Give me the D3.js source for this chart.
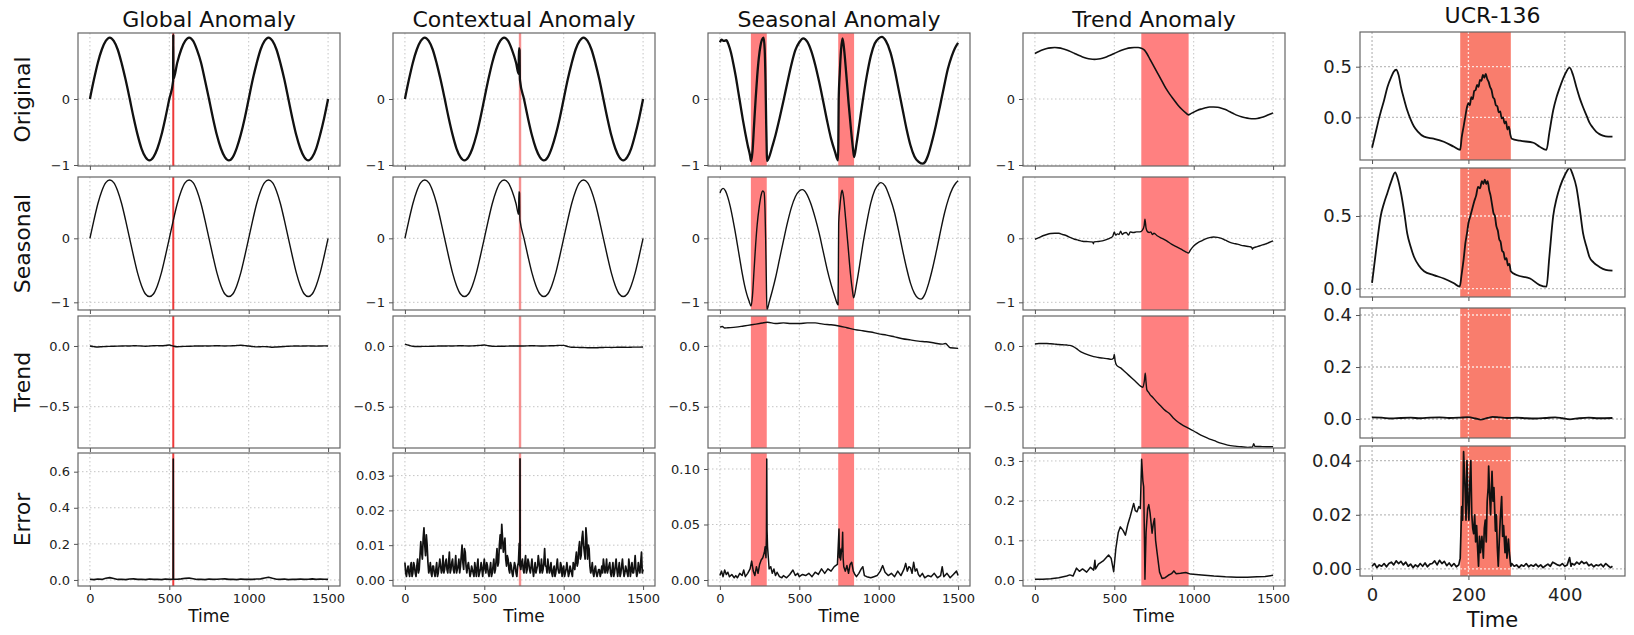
<!DOCTYPE html>
<html><head><meta charset="utf-8">
<script src="https://cdn.jsdelivr.net/npm/d3@7"></script>
<style>body{margin:0;background:#fff}svg{display:block}</style>
</head><body>
<svg id="chart" width="1634" height="635"></svg>
<script>
// ---------------- DATA ----------------
const columnTitles = ["Global Anomaly", "Contextual Anomaly", "Seasonal Anomaly", "Trend Anomaly", "UCR-136"];
const rowLabels = ["Original", "Seasonal", "Trend", "Error"];
const timeTicks = [0, 500, 1000, 1500];
const ucrTimeTicks = [0, 200, 400];
const rowYTicks = [[-1, 0], [-1, 0], [-0.5, 0.0]];
const errorYTicks = [[0, 0.2, 0.4, 0.6], [0, 0.01, 0.02, 0.03], [0, 0.05, 0.10], [0, 0.1, 0.2, 0.3]];
const ucrYTicks = [[0, 0.5], [0, 0.5], [0, 0.2, 0.4], [0, 0.02, 0.04]];

const t25 = [0,25,50,75,100,125,150,175,200,225,250,275,300,325,350,375,400,425,450,475,500,525,550,575,600,625,650,675,700,725,750,775,800,825,850,875,900,925,950,975,1000,1025,1050,1075,1100,1125,1150,1175,1200,1225,1250,1275,1300,1325,1350,1375,1400,1425,1450,1475,1500];

// Global anomaly (values on t25)
const globalOriginal = [0,0.29,0.55,0.75,0.88,0.93,0.88,0.75,0.54,0.29,0.01,-0.28,-0.54,-0.75,-0.88,-0.93,-0.88,-0.75,-0.55,-0.29,
 0.0,0.98,0.55,0.75,0.88,0.93,0.88,0.74,0.55,0.28,0,-0.29,-0.55,-0.75,-0.88,-0.93,-0.88,-0.74,-0.54,-0.29,
 0,0.29,0.54,0.75,0.88,0.93,0.88,0.75,0.54,0.29,0,-0.29,-0.55,-0.75,-0.88,-0.93,-0.88,-0.75,-0.54,-0.29,0];
const globalOriginalExtra = [[524,0.27],[526,0.30]];
const globalSeasonal = [0,0.28,0.54,0.74,0.87,0.91,0.87,0.74,0.54,0.28,0,-0.28,-0.54,-0.74,-0.87,-0.91,-0.87,-0.74,-0.54,-0.28,
 0,0.28,0.54,0.74,0.87,0.91,0.87,0.74,0.54,0.28,0,-0.28,-0.54,-0.74,-0.87,-0.91,-0.87,-0.74,-0.54,-0.28,
 0,0.28,0.54,0.74,0.87,0.91,0.87,0.74,0.54,0.28,0,-0.28,-0.54,-0.74,-0.87,-0.91,-0.87,-0.74,-0.54,-0.28,0];
const globalTrend = [0.0,-0.005,-0.008,-0.006,-0.004,-0.003,-0.002,-0.001,0.0,0.001,0.0,0.002,0.001,0.0,-0.002,0.0,0.002,0.003,0.002,0.004,
 0.008,-0.001,-0.006,-0.004,-0.003,-0.002,-0.001,0.0,0.0,0.001,0.0,0.001,0.002,0.001,0.0,0.001,0.002,0.004,0.006,0.003,
 0.0,-0.004,-0.007,-0.006,-0.005,-0.007,-0.01,-0.008,-0.006,-0.004,-0.002,-0.001,0.0,-0.001,0.0,0.001,0.0,-0.001,0.0,0.001,0.0];
const globalError = [0.004,0.002,0.005,0.003,0.009,0.013,0.008,0.003,0.004,0.002,0.005,0.006,0.003,0.004,0.002,0.005,0.003,0.004,0.002,0.005,
 0.003,0.67,0.004,0.006,0.009,0.011,0.007,0.003,0.004,0.002,0.005,0.003,0.004,0.005,0.006,0.003,0.004,0.002,0.005,0.003,
 0.004,0.003,0.005,0.006,0.011,0.015,0.009,0.004,0.003,0.005,0.002,0.004,0.003,0.005,0.003,0.004,0.006,0.003,0.005,0.004,0.003];
const globalErrorExtra = [[524,0.004],[526,0.004]];
const globalMarker = 525;

// Contextual anomaly
const contextualOriginal = [0,0.29,0.55,0.75,0.88,0.93,0.88,0.75,0.54,0.29,0.01,-0.28,-0.54,-0.75,-0.88,-0.93,-0.88,-0.75,-0.55,-0.29,
 0,0.29,0.55,0.75,0.88,0.93,0.88,0.74,0.55,0.28,0,-0.29,-0.55,-0.75,-0.88,-0.93,-0.88,-0.74,-0.54,-0.29,
 0,0.29,0.54,0.75,0.88,0.93,0.88,0.75,0.54,0.29,0,-0.29,-0.55,-0.75,-0.88,-0.93,-0.88,-0.75,-0.54,-0.29,0];
const contextualOriginalJump = [[716,0.38],[718,0.77],[722,0.74],[724,0.31]];
const contextualSeasonal = [0,0.28,0.54,0.74,0.87,0.91,0.87,0.74,0.54,0.28,0,-0.28,-0.54,-0.74,-0.87,-0.91,-0.87,-0.74,-0.54,-0.28,
 0,0.28,0.54,0.74,0.87,0.91,0.87,0.74,0.54,0.28,0,-0.28,-0.54,-0.74,-0.87,-0.91,-0.87,-0.74,-0.54,-0.28,
 0,0.28,0.54,0.74,0.87,0.91,0.87,0.74,0.54,0.28,0,-0.28,-0.54,-0.74,-0.87,-0.91,-0.87,-0.74,-0.54,-0.28,0];
const contextualSeasonalJump = [[716,0.37],[718,0.73],[722,0.71],[724,0.30]];
const contextualTrend = [0.015,0.006,-0.002,-0.004,-0.004,-0.003,-0.003,-0.002,-0.001,0.0,0.0,0.001,0.0,0.001,0.002,0.001,0.0,0.001,0.003,0.005,
 0.008,0.002,-0.002,-0.003,-0.002,-0.002,-0.001,0.0,0.0,0.0,0.0,0.001,0.002,0.001,0.0,0.0,0.001,0.002,0.003,0.005,
 0.005,-0.004,-0.01,-0.011,-0.012,-0.013,-0.014,-0.014,-0.015,-0.013,-0.012,-0.011,-0.012,-0.011,-0.01,-0.01,-0.011,-0.01,-0.009,-0.009,-0.008];
const contextualError = [[0,0.005],[10,0.001],[20,0.004],[30,0.001],[40,0.005],[50,0.002],[60,0.004],[70,0.001],[80,0.006],[90,0.003],
 [100,0.011],[110,0.006],[120,0.015],[130,0.007],[140,0.01],[150,0.002],[160,0.005],[170,0.001],[180,0.004],[190,0.001],
 [200,0.005],[210,0.002],[220,0.006],[230,0.002],[240,0.007],[250,0.003],[260,0.006],[270,0.002],[280,0.008],[290,0.003],
 [300,0.006],[310,0.002],[320,0.007],[330,0.003],[340,0.006],[350,0.004],[360,0.01],[370,0.003],[380,0.008],[390,0.002],
 [400,0.005],[410,0.001],[420,0.004],[430,0.002],[440,0.005],[450,0.001],[460,0.006],[470,0.002],[480,0.005],[490,0.001],
 [500,0.006],[510,0.002],[520,0.004],[530,0.001],[540,0.005],[550,0.002],[560,0.006],[570,0.003],[580,0.009],[590,0.005],
 [600,0.013],[610,0.016],[620,0.008],[630,0.012],[640,0.004],[650,0.006],[660,0.002],[670,0.004],[680,0.001],[690,0.005],
 [700,0.002],[710,0.004],[720,0.0105],[724,0.004],[725,0.0348],[726,0.004],[730,0.003],[740,0.006],[750,0.002],[760,0.007],[770,0.003],[780,0.005],[790,0.002],
 [800,0.006],[810,0.001],[820,0.005],[830,0.003],[840,0.007],[850,0.002],[860,0.006],[870,0.003],[880,0.009],[890,0.004],
 [900,0.006],[910,0.002],[920,0.005],[930,0.001],[940,0.004],[950,0.002],[960,0.006],[970,0.002],[980,0.005],[990,0.001],
 [1000,0.004],[1010,0.002],[1020,0.005],[1030,0.001],[1040,0.004],[1050,0.002],[1060,0.005],[1070,0.003],[1080,0.008],[1090,0.005],
 [1100,0.011],[1110,0.007],[1120,0.014],[1130,0.008],[1140,0.015],[1150,0.006],[1160,0.009],[1170,0.002],[1180,0.005],[1190,0.001],
 [1200,0.004],[1210,0.001],[1220,0.003],[1230,0.001],[1240,0.004],[1250,0.006],[1260,0.002],[1270,0.006],[1280,0.003],[1290,0.005],
 [1300,0.001],[1310,0.005],[1320,0.002],[1330,0.006],[1340,0.001],[1350,0.005],[1360,0.002],[1370,0.006],[1380,0.001],[1390,0.004],
 [1400,0.002],[1410,0.006],[1420,0.001],[1430,0.005],[1440,0.002],[1450,0.007],[1460,0.001],[1470,0.005],[1480,0.002],[1490,0.008],[1500,0.003]];
const contextualErrorMid = [[5,0.002],[15,0.003],[25,0.002],[35,0.004],[45,0.001],[55,0.005],[65,0.002],[75,0.004],[85,0.002],[95,0.007],
 [105,0.008],[115,0.012],[125,0.01],[135,0.013],[145,0.005],[155,0.003],[165,0.002],[175,0.004],[185,0.002],[195,0.003],
 [205,0.001],[215,0.004],[225,0.004],[235,0.003],[245,0.002],[255,0.005],[265,0.003],[275,0.005],[285,0.002],[295,0.005],
 [305,0.003],[315,0.004],[325,0.002],[335,0.004],[345,0.002],[355,0.007],[365,0.005],[375,0.009],[385,0.004],[395,0.004],
 [405,0.003],[415,0.002],[425,0.003],[435,0.001],[445,0.003],[455,0.004],[465,0.001],[475,0.003],[485,0.003],[495,0.004],
 [505,0.003],[515,0.005],[525,0.002],[535,0.003],[545,0.001],[555,0.004],[565,0.002],[575,0.006],[585,0.004],[595,0.01],
 [605,0.009],[615,0.012],[625,0.01],[635,0.006],[645,0.007],[655,0.003],[665,0.005],[675,0.002],[685,0.003],[695,0.004],
 [705,0.001],[715,0.005],[735,0.005],[745,0.003],[755,0.005],[765,0.002],[775,0.006],[785,0.003],[795,0.004],
 [805,0.003],[815,0.003],[825,0.002],[835,0.004],[845,0.005],[855,0.003],[865,0.002],[875,0.005],[885,0.004],[895,0.002],
 [905,0.004],[915,0.003],[925,0.002],[935,0.003],[945,0.001],[955,0.004],[965,0.003],[975,0.002],[985,0.004],[995,0.003],
 [1005,0.001],[1015,0.003],[1025,0.003],[1035,0.002],[1045,0.003],[1055,0.001],[1065,0.004],[1075,0.006],[1085,0.004],[1095,0.009],
 [1105,0.006],[1115,0.012],[1125,0.01],[1135,0.006],[1145,0.012],[1155,0.01],[1165,0.004],[1175,0.003],[1185,0.002],[1195,0.003],
 [1205,0.002],[1215,0.002],[1225,0.003],[1235,0.002],[1245,0.002],[1255,0.004],[1265,0.003],[1275,0.002],[1285,0.004],[1295,0.002],
 [1305,0.003],[1315,0.001],[1325,0.004],[1335,0.003],[1345,0.003],[1355,0.001],[1365,0.004],[1375,0.003],[1385,0.002],[1395,0.003],
 [1405,0.001],[1415,0.004],[1425,0.003],[1435,0.002],[1445,0.004],[1455,0.003],[1465,0.002],[1475,0.003],[1485,0.005],[1495,0.002]];
const contextualMarker = 725;

// Seasonal anomaly
const seasonalSpans = [[195, 295], [745, 845]];
const seasonalOriginal = [[0,0.86],[10,0.9],[25,0.88],[40,0.89],[55,0.82],[70,0.7],[85,0.53],[100,0.34],[115,0.12],[130,-0.1],[145,-0.32],[160,-0.52],[175,-0.7],[190,-0.86],[196,-0.94],
 [205,-0.8],[215,-0.4],[225,0.0],[235,0.35],[245,0.62],[255,0.8],[265,0.9],[275,0.93],[282,0.75],[287,0.3],[291,-0.3],[295,-0.8],[297,-0.94],
 [310,-0.88],[330,-0.72],[350,-0.55],[375,-0.3],[400,-0.03],[425,0.25],[450,0.52],[475,0.74],[500,0.86],[525,0.92],[550,0.87],[575,0.73],[600,0.52],[625,0.26],[650,-0.03],[675,-0.33],[700,-0.6],[725,-0.8],[744,-0.93],
 [746,-0.6],[748,-0.02],[755,0.4],[763,0.75],[772,0.92],[780,0.8],[795,0.4],[810,-0.05],[825,-0.45],[838,-0.75],[845,-0.88],
 [860,-0.68],[880,-0.35],[900,-0.02],[925,0.35],[950,0.65],[975,0.84],[1000,0.92],[1020,0.94],[1045,0.88],[1075,0.7],[1100,0.45],[1125,0.15],[1150,-0.15],[1175,-0.45],[1200,-0.7],[1225,-0.87],[1250,-0.95],[1275,-0.98],[1290,-0.96],[1310,-0.86],[1335,-0.65],[1360,-0.4],[1385,-0.12],[1410,0.17],[1435,0.45],[1460,0.65],[1480,0.77],[1500,0.85]];
const seasonalSeasonal = [[0,0.71],[10,0.76],[20,0.78],[35,0.74],[50,0.64],[65,0.5],[80,0.32],[95,0.12],[110,-0.1],[125,-0.32],[140,-0.54],[155,-0.73],[170,-0.88],[185,-0.99],[196,-1.06],
 [205,-0.9],[215,-0.5],[225,-0.1],[235,0.22],[248,0.5],[260,0.68],[270,0.74],[278,0.72],[284,0.45],[288,0.0],[292,-0.6],[296,-1.12],
 [310,-1.0],[330,-0.82],[350,-0.62],[375,-0.33],[400,-0.04],[425,0.24],[450,0.48],[475,0.65],[500,0.74],[520,0.76],[545,0.7],[570,0.56],[600,0.32],[625,0.08],[650,-0.2],[675,-0.48],[700,-0.72],[725,-0.92],[744,-1.04],
 [746,-0.5],[748,0.24],[755,0.48],[763,0.68],[770,0.75],[778,0.66],[792,0.3],[808,-0.15],[822,-0.55],[835,-0.82],[842,-0.93],
 [860,-0.72],[880,-0.42],[900,-0.1],[925,0.25],[950,0.55],[975,0.75],[1000,0.85],[1015,0.87],[1040,0.82],[1070,0.64],[1100,0.4],[1125,0.12],[1150,-0.18],[1175,-0.46],[1200,-0.7],[1225,-0.86],[1250,-0.94],[1267,-0.95],[1290,-0.88],[1315,-0.7],[1340,-0.46],[1365,-0.18],[1390,0.12],[1415,0.4],[1440,0.62],[1465,0.78],[1485,0.86],[1500,0.9]];
const seasonalTrend = [[0,0.155],[15,0.16],[30,0.148],[50,0.15],[100,0.155],[150,0.165],[200,0.175],[250,0.185],[300,0.195],[350,0.185],[400,0.19],[450,0.185],[500,0.185],[550,0.19],[600,0.19],[650,0.18],[700,0.175],[750,0.165],[800,0.15],[850,0.135],[900,0.125],[950,0.115],[1000,0.1],[1050,0.09],[1100,0.075],[1150,0.06],[1200,0.05],[1250,0.04],[1300,0.035],[1350,0.025],[1400,0.015],[1420,0.02],[1450,-0.015],[1500,-0.02]];
const seasonalError = [[0,0.004],[10,0.008],[20,0.003],[30,0.009],[40,0.005],[50,0.007],[60,0.003],[75,0.005],[90,0.002],[100,0.004],[110,0.002],[125,0.006],[140,0.004],[150,0.009],[160,0.003],[175,0.006],[190,0.01],[200,0.017],[210,0.008],[220,0.004],[230,0.012],[240,0.006],[250,0.014],[260,0.018],[270,0.02],[280,0.025],[285,0.03],[290,0.02],[293,0.04],[295,0.109],[297,0.045],[300,0.03],[305,0.02],[310,0.01],[320,0.012],[330,0.006],[340,0.01],[350,0.004],[360,0.007],[375,0.003],[390,0.002],[400,0.004],[420,0.002],[440,0.005],[460,0.009],[475,0.004],[490,0.006],[500,0.003],[520,0.005],[540,0.004],[560,0.006],[580,0.003],[600,0.007],[620,0.005],[640,0.01],[660,0.006],[680,0.01],[700,0.008],[720,0.012],[740,0.014],[745,0.03],[750,0.046],[753,0.02],[757,0.028],[760,0.018],[765,0.025],[770,0.03],[773,0.043],[776,0.02],[780,0.012],[790,0.008],[800,0.013],[810,0.006],[820,0.014],[830,0.016],[840,0.008],[850,0.005],[860,0.003],[875,0.006],[890,0.01],[900,0.012],[910,0.004],[925,0.003],[950,0.002],[970,0.003],[990,0.004],[1010,0.008],[1025,0.013],[1040,0.007],[1060,0.004],[1080,0.006],[1100,0.003],[1120,0.008],[1140,0.004],[1160,0.01],[1170,0.015],[1180,0.008],[1190,0.012],[1200,0.011],[1210,0.006],[1220,0.016],[1230,0.008],[1240,0.01],[1250,0.005],[1260,0.003],[1275,0.006],[1290,0.002],[1310,0.004],[1330,0.003],[1350,0.006],[1370,0.002],[1390,0.004],[1400,0.012],[1410,0.003],[1430,0.006],[1450,0.002],[1470,0.005],[1490,0.008],[1500,0.004]];

// Trend anomaly
const trendSpans = [[670, 968]];
const trendOriginal = [[0,0.69],[25,0.72],[50,0.745],[75,0.765],[100,0.775],[125,0.78],[150,0.775],[175,0.762],[200,0.742],[225,0.718],[250,0.69],[275,0.662],[300,0.638],[325,0.618],[350,0.605],[375,0.6],[400,0.605],[425,0.618],[450,0.638],[475,0.662],[500,0.69],[525,0.718],[550,0.742],[575,0.762],[600,0.775],[625,0.78],[650,0.78],[670,0.77],[690,0.74],[705,0.69],[725,0.6],[750,0.49],[775,0.38],[800,0.27],[825,0.16],[850,0.07],[875,-0.01],[900,-0.09],[925,-0.155],[950,-0.21],[967,-0.24],[980,-0.225],[1000,-0.2],[1025,-0.17],[1050,-0.15],[1075,-0.133],[1100,-0.122],[1125,-0.12],[1150,-0.125],[1175,-0.14],[1200,-0.16],[1225,-0.19],[1250,-0.22],[1275,-0.248],[1300,-0.27],[1325,-0.285],[1350,-0.295],[1375,-0.3],[1400,-0.295],[1425,-0.28],[1450,-0.26],[1475,-0.235],[1500,-0.21]];
const trendSeasonal = [[0,-0.015],[25,0.01],[50,0.04],[75,0.06],[100,0.075],[125,0.08],[150,0.078],[175,0.06],[200,0.04],[225,0.01],[250,-0.015],[275,-0.03],[300,-0.045],[325,-0.05],[350,-0.055],[365,-0.06],[368,-0.085],[372,-0.055],[400,-0.05],[425,-0.04],[450,-0.02],[470,0.0],[490,0.03],[500,0.1],[508,0.05],[520,0.07],[530,0.06],[540,0.11],[550,0.06],[560,0.08],[575,0.09],[590,0.05],[600,0.1],[620,0.09],[640,0.1],[660,0.1],[675,0.12],[688,0.2],[693,0.3],[700,0.16],[710,0.1],[720,0.09],[730,0.1],[740,0.06],[750,0.08],[770,0.04],[800,0.0],[830,-0.04],[860,-0.09],[890,-0.13],[920,-0.17],[950,-0.21],[967,-0.23],[980,-0.18],[1000,-0.12],[1025,-0.07],[1050,-0.04],[1075,-0.01],[1100,0.01],[1125,0.02],[1150,0.015],[1175,0.0],[1200,-0.03],[1225,-0.06],[1250,-0.08],[1275,-0.09],[1300,-0.11],[1325,-0.12],[1350,-0.13],[1365,-0.14],[1370,-0.17],[1375,-0.15],[1400,-0.13],[1425,-0.11],[1450,-0.09],[1475,-0.065],[1500,-0.04]];
const trendTrend = [[0,0.016],[25,0.02],[50,0.02],[75,0.02],[100,0.018],[125,0.015],[150,0.012],[175,0.01],[200,0.008],[220,0.005],[242,-0.005],[260,-0.02],[285,-0.045],[310,-0.06],[340,-0.075],[370,-0.088],[400,-0.095],[430,-0.1],[460,-0.105],[480,-0.11],[495,-0.1],[500,-0.07],[505,-0.12],[515,-0.16],[540,-0.18],[565,-0.21],[590,-0.24],[615,-0.27],[640,-0.3],[665,-0.33],[680,-0.34],[690,-0.28],[695,-0.225],[700,-0.3],[705,-0.36],[715,-0.38],[725,-0.4],[740,-0.42],[760,-0.45],[790,-0.49],[820,-0.53],[850,-0.56],[877,-0.6],[905,-0.63],[935,-0.655],[972,-0.68],[1000,-0.7],[1045,-0.734],[1090,-0.76],[1130,-0.78],[1170,-0.8],[1214,-0.816],[1260,-0.825],[1300,-0.83],[1340,-0.835],[1370,-0.832],[1378,-0.805],[1385,-0.826],[1420,-0.828],[1460,-0.83],[1500,-0.83]];
const trendError = [[0,0.002],[50,0.002],[100,0.003],[150,0.006],[200,0.01],[220,0.013],[240,0.01],[262,0.03],[280,0.022],[300,0.028],[326,0.02],[350,0.032],[370,0.025],[378,0.05],[382,0.028],[400,0.04],[430,0.048],[464,0.063],[480,0.055],[496,0.021],[510,0.08],[525,0.12],[538,0.134],[555,0.125],[570,0.113],[585,0.14],[600,0.16],[622,0.193],[632,0.175],[643,0.172],[655,0.185],[664,0.18],[672,0.304],[680,0.25],[685,0.235],[690,0.1],[693,0.002],[700,0.12],[710,0.18],[717,0.19],[725,0.17],[738,0.118],[745,0.14],[753,0.155],[760,0.1],[770,0.067],[785,0.02],[801,0.004],[820,0.006],[840,0.012],[860,0.016],[875,0.023],[890,0.016],[917,0.017],[950,0.019],[980,0.015],[1050,0.013],[1127,0.01],[1200,0.008],[1270,0.007],[1338,0.007],[1400,0.008],[1450,0.009],[1500,0.012]];

// UCR-136
const ucrSpans = [[183, 288]];
const ucrOriginal = [[0,-0.3],[5,-0.2],[10,-0.1],[15,0.0],[19,0.07],[25,0.17],[32,0.3],[40,0.4],[45,0.45],[50,0.47],[55,0.42],[60,0.3],[67,0.17],[73,0.07],[80,-0.02],[87,-0.09],[95,-0.14],[108,-0.19],[128,-0.21],[149,-0.24],[170,-0.29],[183,-0.32],
 [186,-0.2],[190,-0.09],[194,0.02],[197,0.1],[200,0.14],[203,0.12],[206,0.2],[209,0.18],[212,0.26],[215,0.27],[218,0.32],[221,0.3],[224,0.37],[227,0.36],[230,0.42],[233,0.39],[236,0.43],[239,0.38],[242,0.35],[245,0.3],[248,0.27],[251,0.2],[254,0.18],[257,0.12],[260,0.11],[263,0.05],[266,0.06],[269,-0.01],[272,0.0],[275,-0.06],[278,-0.04],[281,-0.12],[284,-0.09],[287,-0.17],[290,-0.21],
 [307,-0.23],[335,-0.25],[348,-0.29],[362,-0.32],[368,-0.15],[376,0.07],[383,0.2],[390,0.3],[400,0.42],[410,0.49],[417,0.42],[424,0.3],[431,0.19],[438,0.1],[445,0.02],[451,-0.05],[458,-0.1],[465,-0.14],[472,-0.165],[479,-0.18],[490,-0.19],[499,-0.19]];
const ucrSeasonal = [[0,0.04],[6,0.2],[12,0.36],[18,0.5],[25,0.59],[32,0.66],[40,0.74],[48,0.8],[53,0.76],[60,0.66],[67,0.52],[73,0.38],[80,0.29],[87,0.22],[97,0.16],[108,0.12],[128,0.094],[149,0.07],[170,0.037],[182,0.014],
 [186,0.1],[190,0.2],[194,0.32],[197,0.38],[200,0.45],[204,0.5],[208,0.55],[212,0.6],[216,0.64],[220,0.7],[224,0.69],[228,0.74],[231,0.72],[234,0.75],[237,0.72],[240,0.74],[243,0.68],[246,0.64],[249,0.58],[252,0.52],[255,0.5],[258,0.43],[261,0.4],[264,0.34],[267,0.32],[270,0.26],[273,0.25],[276,0.2],[279,0.21],[282,0.16],[285,0.17],[288,0.12],
 [300,0.094],[328,0.07],[348,0.025],[362,0.014],[368,0.22],[376,0.5],[383,0.62],[390,0.7],[400,0.78],[410,0.83],[417,0.78],[424,0.7],[431,0.55],[438,0.38],[445,0.29],[451,0.22],[460,0.18],[472,0.15],[485,0.13],[499,0.124]];
const ucrTrend = [[0,0.006],[20,0.005],[40,0.002],[60,0.004],[80,0.005],[100,0.003],[120,0.005],[140,0.006],[160,0.004],[180,0.005],[200,0.007],[215,0.002],[225,-0.002],[240,0.004],[250,0.008],[265,0.006],[280,0.004],[300,0.005],[320,0.003],[340,0.002],[360,0.004],[380,0.006],[395,0.003],[410,-0.001],[430,0.003],[450,0.005],[470,0.003],[499,0.004]];
const ucrError = [[0,0.001],[5,0.002],[10,0.0005],[15,0.0015],[20,0.001],[25,0.002],[30,0.0008],[35,0.002],[40,0.0025],[45,0.0015],[50,0.003],[55,0.002],[60,0.0028],[65,0.0015],[70,0.0025],[75,0.001],[80,0.0018],[85,0.0005],[90,0.0015],[95,0.0008],[100,0.002],[105,0.001],[110,0.0022],[115,0.0008],[120,0.0018],[125,0.002],[130,0.003],[135,0.0015],[140,0.0032],[145,0.002],[150,0.0028],[155,0.0012],[160,0.0022],[165,0.001],[170,0.002],[175,0.0008],[180,0.0015],
 [183,0.004],[186,0.023],[188,0.018],[190,0.0433],[193,0.03],[195,0.018],[197,0.04],[199,0.025],[201,0.018],[203,0.032],[205,0.04],[207,0.02],[209,0.015],[211,0.013],[213,0.02],[215,0.01],[217,0.016],[219,0.008],[221,0.001],[223,0.012],[225,0.006],[228,0.012],[231,0.004],[233,0.015],[235,0.018],[237,0.01],[239,0.025],[241,0.03],[242,0.038],[244,0.028],[246,0.02],[249,0.036],[251,0.025],[253,0.03],[256,0.014],[258,0.02],[260,0.008],[262,0.001],[264,0.01],[266,0.018],[269,0.0267],[271,0.012],[273,0.016],[276,0.006],[278,0.012],[280,0.004],[283,0.011],[285,0.006],[288,0.001],
 [290,0.002],[295,0.001],[300,0.0015],[305,0.0005],[310,0.0015],[315,0.001],[320,0.002],[325,0.0008],[330,0.0015],[335,0.001],[340,0.0018],[345,0.0008],[350,0.0015],[355,0.0005],[360,0.0012],[365,0.0018],[370,0.001],[375,0.0025],[380,0.002],[385,0.0015],[390,0.0012],[395,0.002],[400,0.001],[405,0.0015],[410,0.0042],[413,0.001],[415,0.002],[420,0.0015],[425,0.0025],[430,0.0018],[435,0.0028],[440,0.002],[445,0.0025],[450,0.0012],[455,0.0018],[460,0.0008],[465,0.0015],[470,0.0012],[475,0.0018],[480,0.0008],[485,0.002],[490,0.0012],[495,0.0005],[499,0.001]];

// ---------------- HELPERS ----------------
const zip = (ts, vs) => ts.map((t, i) => [t, vs[i]]);
const merge = (a, b) => a.concat(b).sort((p, q) => p[0] - q[0]);

// ---------------- LAYOUT ----------------
const FONT = "'DejaVu Sans', sans-serif";
const svg = d3.select("#chart");
const colLeft = [78, 393, 708, 1023];
const colWidth = 262;
const rowTop = [33, 177, 316, 453];
const rowBottom = [166, 310, 448, 586];
const ucrLeft = 1360, ucrRight = 1625;
const ucrTop = [32, 168, 308, 446];
const ucrBottom = [160, 297, 438, 576];
const rowYDomains = [[-1.015, 1.0], [-1.12, 0.958], [-0.84, 0.247]];
const errorYDomains = [[-0.0335, 0.7035], [-0.00174, 0.0365], [-0.0054, 0.1144], [-0.015, 0.32]];
const ucrYDomains = [[-0.42, 0.842], [-0.057, 0.83], [-0.073, 0.427], [-0.0026, 0.0454]];
const rowDecimals = [0, 0, 1];
const errorDecimals = [1, 2, 2, 1];
const ucrDecimals = [1, 1, 1, 2];
const fmt = dec => v => (v < 0 ? "\u2212" : "") + Math.abs(v).toFixed(dec);

let clipCount = 0;
function drawPanel(p) {
  const x = d3.scaleLinear().domain(p.xDomain).range([p.left, p.right]);
  const y = d3.scaleLinear().domain(p.yDomain).range([p.bottom, p.top]);
  const g = svg.append("g");
  const cid = "clip" + (clipCount++);
  g.append("clipPath").attr("id", cid).append("rect")
    .attr("x", p.left).attr("y", p.top).attr("width", p.right - p.left).attr("height", p.bottom - p.top);
  const body = g.append("g").attr("clip-path", `url(#${cid})`);

  const drawGrid = (layer, color, width, dash) => {
    layer.selectAll(null).data(p.xTicks).join("line")
      .attr("x1", d => x(d)).attr("x2", d => x(d)).attr("y1", p.top).attr("y2", p.bottom)
      .attr("stroke", color).attr("stroke-width", width).attr("stroke-dasharray", dash);
    layer.selectAll(null).data(p.yTicks).join("line")
      .attr("y1", d => y(d)).attr("y2", d => y(d)).attr("x1", p.left).attr("x2", p.right)
      .attr("stroke", color).attr("stroke-width", width).attr("stroke-dasharray", dash);
  };
  drawGrid(body.append("g"), p.big ? "#bdbdbd" : "#c4c4c4", p.big ? 1.3 : 1, p.big ? "2,2" : "1.5,2.5");

  body.append("g").selectAll("rect").data(p.spans || []).join("rect")
    .attr("x", d => x(d[0])).attr("width", d => x(d[1]) - x(d[0]))
    .attr("y", p.top).attr("height", p.bottom - p.top).attr("fill", p.spanColor);

  if (p.big) {
    const sid = "span" + cid;
    g.append("clipPath").attr("id", sid).selectAll("rect").data(p.spans || []).join("rect")
      .attr("x", d => x(d[0])).attr("width", d => x(d[1]) - x(d[0]))
      .attr("y", p.top).attr("height", p.bottom - p.top);
    drawGrid(body.append("g").attr("clip-path", `url(#${sid})`), "#fde3de", 1.3, "2,2");
  }

  if (p.marker !== undefined) {
    body.append("line").attr("x1", x(p.marker)).attr("x2", x(p.marker))
      .attr("y1", p.top).attr("y2", p.bottom)
      .attr("stroke", p.markerColor).attr("stroke-width", p.markerWidth);
  }

  body.append("path").datum(p.data)
    .attr("d", d3.line().x(d => x(d[0])).y(d => y(d[1])).curve(p.curve || d3.curveLinear))
    .attr("fill", "none").attr("stroke", "#111").attr("stroke-width", p.lineWidth)
    .attr("stroke-linejoin", "round");

  g.append("rect").attr("x", p.left).attr("y", p.top)
    .attr("width", p.right - p.left).attr("height", p.bottom - p.top)
    .attr("fill", "none").attr("stroke", "#666").attr("stroke-width", 1.2);

  const fs = p.big ? 18 : 13;
  const ya = g.append("g").attr("transform", `translate(${p.left},0)`)
    .call(d3.axisLeft(y).tickValues(p.yTicks).tickFormat(p.yFormat).tickSize(4).tickPadding(4));
  ya.select(".domain").remove();
  ya.selectAll("line").attr("stroke", "#555");
  ya.selectAll("text").attr("font-size", fs).attr("font-family", FONT).attr("fill", "#222");

  const xa = g.append("g").attr("transform", `translate(0,${p.bottom})`)
    .call(d3.axisBottom(x).tickValues(p.xTicks).tickSize(4).tickPadding(p.big ? 8 : 4)
      .tickFormat(p.showX ? d3.format("d") : () => ""));
  xa.select(".domain").remove();
  xa.selectAll("line").attr("stroke", "#555");
  xa.selectAll("text").attr("font-size", fs).attr("font-family", FONT).attr("fill", "#222");
}

// ---------------- COLUMNS 1-4 ----------------
const smooth = d3.curveMonotoneX;
const standardCols = [
  { series: [merge(zip(t25, globalOriginal), globalOriginalExtra), zip(t25, globalSeasonal), zip(t25, globalTrend), merge(zip(t25, globalError), globalErrorExtra)],
    widths: [2.3, 1.4, 1.4, 1.6], marker: globalMarker, markerColor: "#ee3a3a", markerWidth: 2 },
  { series: [merge(zip(t25, contextualOriginal), contextualOriginalJump), merge(zip(t25, contextualSeasonal), contextualSeasonalJump), zip(t25, contextualTrend), merge(contextualError, contextualErrorMid)],
    widths: [2.3, 1.4, 1.4, 1.7], marker: contextualMarker, markerColor: "#f59090", markerWidth: 2.4 },
  { series: [seasonalOriginal, seasonalSeasonal, seasonalTrend, seasonalError],
    widths: [2.3, 1.4, 1.4, 1.5], spans: seasonalSpans },
  { series: [trendOriginal, trendSeasonal, trendTrend, trendError],
    widths: [1.6, 1.4, 1.4, 1.5], spans: trendSpans }
];

standardCols.forEach((col, ci) => {
  for (let r = 0; r < 4; r++) {
    const isErr = r === 3;
    drawPanel({
      left: colLeft[ci], right: colLeft[ci] + colWidth, top: rowTop[r], bottom: rowBottom[r],
      xDomain: [-75, 1575],
      yDomain: isErr ? errorYDomains[ci] : rowYDomains[r],
      xTicks: timeTicks,
      yTicks: isErr ? errorYTicks[ci] : rowYTicks[r],
      yFormat: fmt(isErr ? errorDecimals[ci] : rowDecimals[r]),
      data: col.series[r], lineWidth: col.widths[r],
      curve: isErr ? d3.curveLinear : smooth,
      spans: col.spans, spanColor: "#ff8080",
      marker: col.marker, markerColor: col.markerColor, markerWidth: col.markerWidth,
      showX: r === 3, big: false
    });
  }
  const cx = colLeft[ci] + colWidth / 2;
  svg.append("text").attr("x", cx).attr("y", 27).attr("text-anchor", "middle")
    .attr("font-family", FONT).attr("font-size", 22).attr("fill", "#111").text(columnTitles[ci]);
  svg.append("text").attr("x", cx).attr("y", 622).attr("text-anchor", "middle")
    .attr("font-family", FONT).attr("font-size", 17).attr("fill", "#111").text("Time");
});

// ---------------- UCR column ----------------
const ucrSeries = [ucrOriginal, ucrSeasonal, ucrTrend, ucrError];
for (let r = 0; r < 4; r++) {
  drawPanel({
    left: ucrLeft, right: ucrRight, top: ucrTop[r], bottom: ucrBottom[r],
    xDomain: [-25, 525], yDomain: ucrYDomains[r],
    xTicks: ucrTimeTicks, yTicks: ucrYTicks[r], yFormat: fmt(ucrDecimals[r]),
    data: ucrSeries[r], lineWidth: r === 3 ? 1.7 : 1.8,
    curve: r === 3 ? d3.curveLinear : smooth,
    spans: ucrSpans, spanColor: "#f97d6d",
    showX: r === 3, big: true
  });
}
svg.append("text").attr("x", (ucrLeft + ucrRight) / 2).attr("y", 23).attr("text-anchor", "middle")
  .attr("font-family", FONT).attr("font-size", 22).attr("fill", "#111").text(columnTitles[4]);
svg.append("text").attr("x", (ucrLeft + ucrRight) / 2).attr("y", 627).attr("text-anchor", "middle")
  .attr("font-family", FONT).attr("font-size", 21).attr("fill", "#111").text("Time");

// ---------------- Row labels ----------------
rowLabels.forEach((lab, r) => {
  const cy = (rowTop[r] + rowBottom[r]) / 2;
  svg.append("text").attr("transform", `translate(30,${cy}) rotate(-90)`)
    .attr("text-anchor", "middle").attr("font-family", FONT).attr("font-size", 22)
    .attr("fill", "#111").text(lab);
});
</script>
</body></html>
